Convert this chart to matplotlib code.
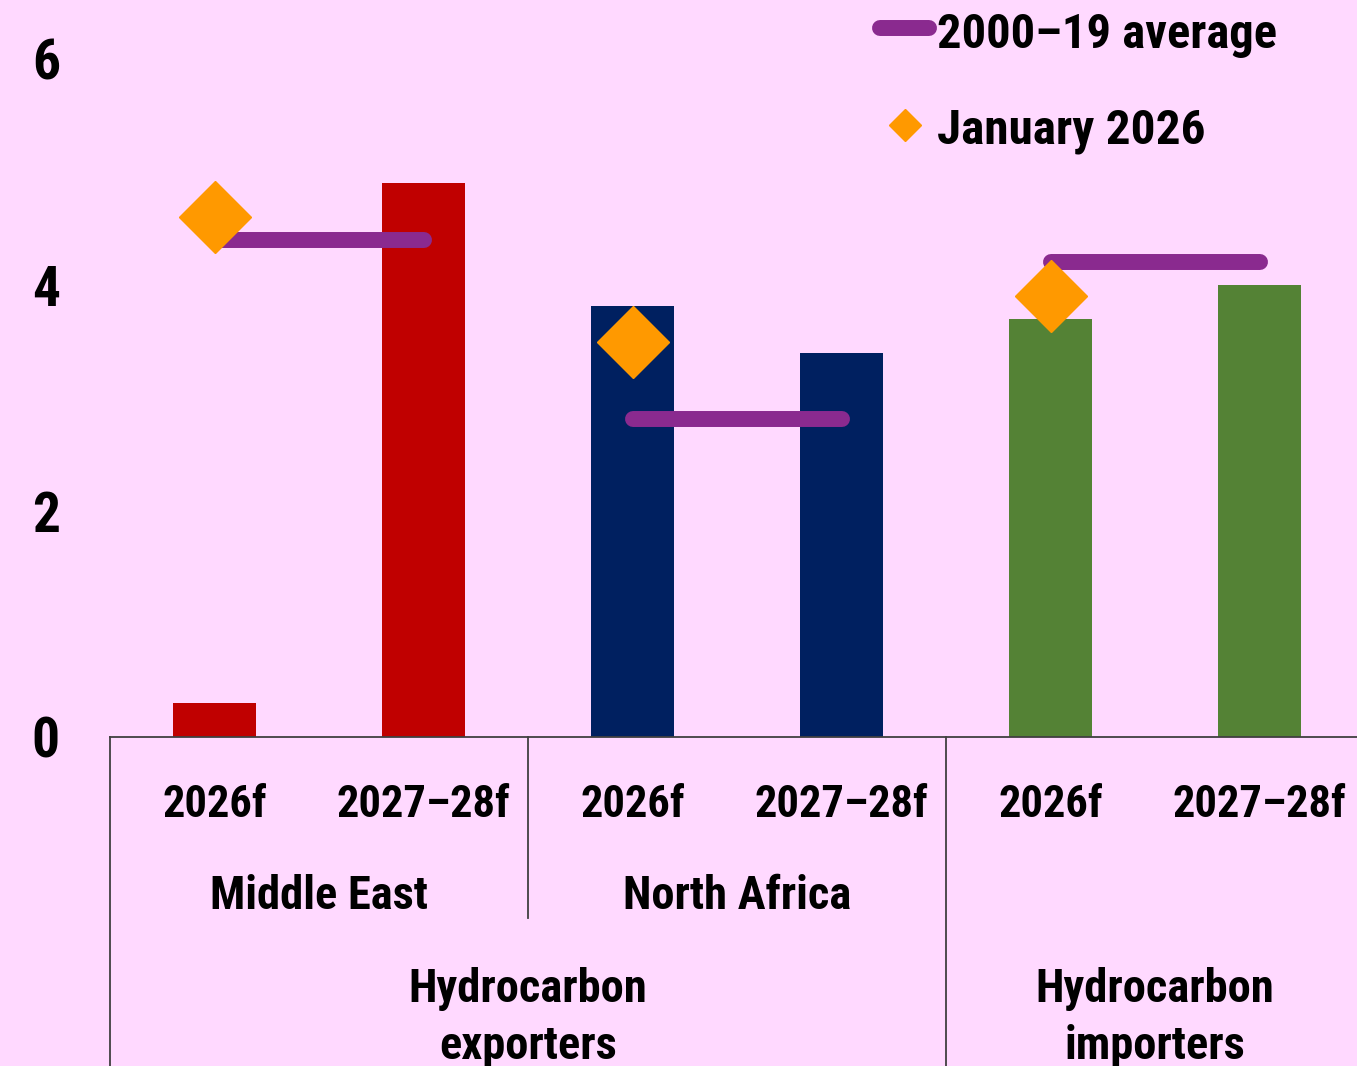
import matplotlib
matplotlib.use("Agg")
import matplotlib.pyplot as plt
from matplotlib import font_manager
from matplotlib.lines import Line2D
from matplotlib.transforms import blended_transform_factory

# ---- data ----
periods = ["2026f", "2027–28f", "2026f", "2027–28f", "2026f", "2027–28f"]
values = [0.30, 4.90, 3.81, 3.40, 3.70, 4.00]
bar_colors = ["#C00000", "#C00000", "#002060", "#002060", "#548235", "#548235"]
avg_2000_19 = [4.40, 4.40, 2.81, 2.81, 4.20, 4.20]
jan_2026 = [4.60, None, 3.50, None, 3.90, None]
regions = ["Middle East", "North Africa", ""]
groups = ["Hydrocarbon\nexporters", "Hydrocarbon\nimporters"]
legend_labels = ["2000–19 average", "January 2026"]
yticks = [0, 2, 4, 6]

# ---- font ----
names = {f.name for f in font_manager.fontManager.ttflist}
family = "DejaVu Sans"
for cand in ["Roboto Condensed", "Liberation Sans Narrow", "DejaVu Sans Condensed", "Open Sans Condensed"]:
    if cand in names:
        family = cand
        break
plt.rcParams["font.family"] = [family, "DejaVu Sans"]
plt.rcParams["font.weight"] = "bold"

BG = "#FFD9FF"
PURPLE = "#8A2A8F"
ORANGE = "#FF9900"
W, H = 1357, 1066
fig = plt.figure(figsize=(W / 100, H / 100), dpi=100, facecolor=BG)
ax = fig.add_axes([110 / W, (H - 737) / H, (1364 - 110) / W, 678 / H])
ax.set_facecolor(BG)

x = list(range(len(values)))
ax.bar(x, values, width=0.40, color=bar_colors, zorder=2)

for g in range(3):
    xs = [2 * g, 2 * g + 1]
    ax.plot(xs, avg_2000_19[2 * g:2 * g + 2], color=PURPLE, lw=11.5,
            solid_capstyle="round", zorder=3, clip_on=False)
jx = [i for i, v in enumerate(jan_2026) if v is not None]
jy = [v for v in jan_2026 if v is not None]
ax.plot(jx, jy, ls="none", marker="D", ms=37, color=ORANGE, zorder=4, clip_on=False)

ax.set_xlim(-0.5, 5.5)
ax.set_ylim(0, 6)
ax.set_yticks(yticks)
ax.set_yticklabels([str(t) for t in yticks], fontsize=40, fontweight="bold")
ax.tick_params(axis="y", length=0, pad=36)
ax.set_xticks([])
for s in ["left", "right", "top"]:
    ax.spines[s].set_visible(False)
ax.spines["bottom"].set_color("#404040")
ax.spines["bottom"].set_linewidth(1.3)

# hierarchical category axis
tr = blended_transform_factory(ax.transData, fig.transFigure)
def fy(py):
    return (H - py) / H

for i, p in enumerate(periods):
    ax.text(i, fy(817), p, transform=tr, ha="center", va="baseline",
            fontsize=32, fontweight="bold", clip_on=False)
for r, name in enumerate(regions):
    if name:
        ax.text(2 * r + 0.5, fy(909), name, transform=tr, ha="center", va="baseline",
                fontsize=33.5, fontweight="bold", clip_on=False)
for k, gname in enumerate(groups):
    top, bot = gname.split("\n")
    xc = 1.5 if k == 0 else 4.5
    ax.text(xc, fy(1002), top, transform=tr, ha="center", va="baseline",
            fontsize=33.5, fontweight="bold", clip_on=False)
    ax.text(xc, fy(1059), bot, transform=tr, ha="center", va="baseline",
            fontsize=33.5, fontweight="bold", clip_on=False)

sep_col = "#404040"
for xv, bottom in [(-0.5, H + 5), (1.5, 918), (3.5, H + 5), (5.5, H + 5)]:
    ax.add_line(Line2D([xv, xv], [fy(737), fy(bottom)], transform=tr,
                       color=sep_col, lw=1.3, clip_on=False))

# legend (drawn as figure artists)
fig.add_artist(Line2D([880 / W, 929 / W], [fy(28), fy(28)], transform=fig.transFigure,
                      color=PURPLE, lw=11.5, solid_capstyle="round"))
fig.add_artist(Line2D([905 / W], [fy(125)], transform=fig.transFigure,
                      color=ORANGE, marker="D", ms=16, ls="none"))
fig.text(937 / W, fy(48), legend_labels[0], ha="left", va="baseline",
         fontsize=35, fontweight="bold")
fig.text(937 / W, fy(143), legend_labels[1], ha="left", va="baseline",
         fontsize=35.5, fontweight="bold")

fig.savefig("out.png", dpi=100, facecolor=BG)
